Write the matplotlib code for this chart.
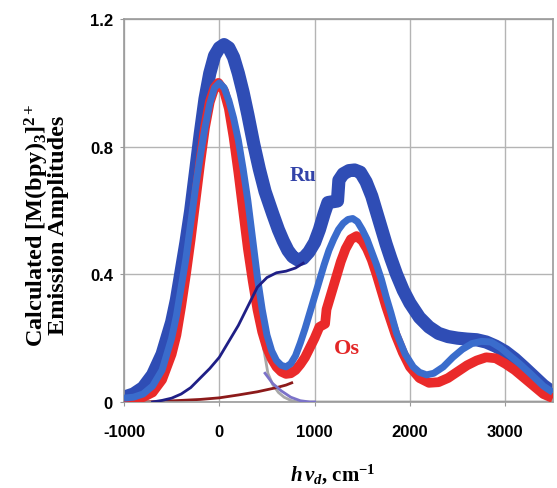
import matplotlib
matplotlib.use("Agg")
import matplotlib.pyplot as plt

plt.rcParams['mathtext.fontset'] = 'custom'
plt.rcParams['mathtext.rm'] = 'Liberation Serif:bold'
plt.rcParams['mathtext.it'] = 'Liberation Serif:bold:italic'
plt.rcParams['mathtext.bf'] = 'Liberation Serif:bold'

# Ru total (thick dark blue)
ru_x = [-1000, -900, -800, -700, -600, -500, -450, -400, -350, -300, -250, -200, -150, -100, -50,
        0, 50, 100, 150, 200, 250, 300, 360, 420, 480, 560, 620, 670, 720, 770, 825, 880, 940,
        1000, 1050, 1100, 1140, 1240, 1255, 1300, 1360, 1420, 1480, 1540, 1600, 1650, 1700, 1750,
        1800, 1860, 1930, 2000, 2100, 2200, 2300, 2400, 2500, 2600, 2700, 2800, 2900, 3000, 3100,
        3200, 3300, 3400, 3500]
ru_y = [0.015, 0.025, 0.045, 0.085, 0.15, 0.25, 0.32, 0.41, 0.5, 0.6, 0.72, 0.84, 0.95, 1.03, 1.085,
        1.11, 1.12, 1.11, 1.08, 1.03, 0.97, 0.9, 0.81, 0.73, 0.66, 0.59, 0.54, 0.505, 0.475, 0.455,
        0.445, 0.45, 0.47, 0.5, 0.54, 0.59, 0.625, 0.63, 0.695, 0.715, 0.725, 0.727, 0.72, 0.69,
        0.645, 0.595, 0.545, 0.495, 0.45, 0.4, 0.35, 0.31, 0.265, 0.235, 0.215, 0.205, 0.2, 0.197,
        0.195, 0.188, 0.175, 0.158, 0.135, 0.108, 0.08, 0.052, 0.03]

# medium blue
mb_x = [-1000, -900, -800, -700, -600, -500, -450, -400, -350, -300, -250, -200, -150, -100, -50,
        0, 50, 100, 150, 200, 250, 300, 350, 400, 450, 500, 550, 600, 650, 700, 750, 800, 850,
        900, 950, 1000, 1050, 1100, 1150, 1200, 1250, 1300, 1350, 1400, 1450, 1500, 1550, 1600,
        1650, 1700, 1750, 1800, 1860, 1950, 2035, 2100, 2175, 2250, 2350, 2450, 2550, 2650, 2750,
        2850, 2950, 3050, 3150, 3260, 3400, 3500]
mb_y = [0.012, 0.015, 0.025, 0.05, 0.1, 0.2, 0.27, 0.36, 0.45, 0.56, 0.67, 0.77, 0.86, 0.935, 0.985,
        1.0, 0.985, 0.945, 0.89, 0.82, 0.73, 0.63, 0.51, 0.39, 0.29, 0.21, 0.16, 0.13, 0.115, 0.11,
        0.12, 0.145, 0.185, 0.23, 0.28, 0.33, 0.38, 0.43, 0.475, 0.51, 0.54, 0.56, 0.572, 0.575,
        0.565, 0.54, 0.51, 0.47, 0.43, 0.385, 0.33, 0.28, 0.215, 0.15, 0.11, 0.093, 0.085, 0.09,
        0.11, 0.14, 0.165, 0.183, 0.19, 0.188, 0.17, 0.145, 0.12, 0.09, 0.05, 0.03]

# Os (red)
os_x = [-1000, -900, -800, -700, -600, -500, -450, -400, -350, -300, -250, -200, -150, -100, -50,
        -10, 50, 100, 150, 200, 250, 300, 350, 400, 450, 500, 550, 600, 650, 700, 750, 800, 850,
        900, 950, 1000, 1050, 1110, 1125, 1175, 1225, 1275, 1325, 1380, 1440, 1500, 1550, 1600,
        1650, 1700, 1750, 1800, 1850, 1925, 2000, 2100, 2200, 2300, 2400, 2500, 2600, 2700, 2800,
        2900, 3000, 3100, 3200, 3300, 3400, 3500]
os_y = [0.005, 0.008, 0.015, 0.03, 0.07, 0.15, 0.21, 0.3, 0.4, 0.51, 0.63, 0.75, 0.86, 0.94, 0.985,
        1.0, 0.975, 0.92, 0.83, 0.72, 0.6, 0.48, 0.38, 0.29, 0.22, 0.17, 0.135, 0.11, 0.095, 0.088,
        0.09, 0.1, 0.118, 0.14, 0.17, 0.2, 0.235, 0.245, 0.29, 0.34, 0.39, 0.44, 0.48, 0.51, 0.52,
        0.505, 0.48, 0.445, 0.4, 0.35, 0.3, 0.255, 0.21, 0.155, 0.11, 0.075, 0.06, 0.062, 0.075,
        0.095, 0.115, 0.13, 0.14, 0.137, 0.12, 0.1, 0.075, 0.05, 0.025, 0.012]

# thin component lines
navy_x = [-700, -600, -500, -400, -300, -200, -100, 0, 100, 200, 300, 400, 500, 600, 700, 800, 880]
navy_y = [0.0, 0.005, 0.012, 0.025, 0.045, 0.075, 0.105, 0.14, 0.19, 0.24, 0.3, 0.36, 0.39, 0.405,
          0.41, 0.42, 0.435]
dred_x = [-1000, -800, -600, -400, -200, 0, 200, 400, 600, 700, 760]
dred_y = [0.0, 0.0, 0.002, 0.005, 0.008, 0.013, 0.022, 0.032, 0.045, 0.053, 0.06]
gray_x = [420, 470, 510, 560, 620, 680, 750, 820, 3500]
gray_y = [0.25, 0.16, 0.09, 0.055, 0.03, 0.015, 0.005, 0.0, 0.0]
lav_x = [480, 560, 650, 750, 850, 950, 1000]
lav_y = [0.09, 0.058, 0.035, 0.015, 0.004, 0.0, 0.0]

xticks = [-1000, 0, 1000, 2000, 3000]
xtick_labels = ["-1000", "0", "1000", "2000", "3000"]
yticks = [0, 0.4, 0.8, 1.2]
ytick_labels = ["0", "0.4", "0.8", "1.2"]

fig = plt.figure(figsize=(5.57, 4.89), dpi=100)
ax = fig.add_axes([0.2226, 0.1759, 0.770, 0.783])

kw = dict(solid_capstyle='butt', solid_joinstyle='round')
ax.plot(ru_x, ru_y, color='#2f4db5', lw=9.5, zorder=2, **kw)
ax.plot(gray_x, gray_y, color='#a8a8a8', lw=2.0, zorder=2.5)
ax.plot(dred_x, dred_y, color='#8c1a1a', lw=2.0, zorder=2.5)
ax.plot(os_x, os_y, color='#ea2a2a', lw=7.0, zorder=3, **kw)
ax.plot(mb_x, mb_y, color='#3a6ccc', lw=5.0, zorder=4, **kw)
ax.plot(lav_x, lav_y, color='#7b72c8', lw=2.0, zorder=4.5)
ax.plot(navy_x, navy_y, color='#1f1f86', lw=2.0, zorder=5)

ax.set_xlim(-1000, 3500)
ax.set_ylim(0, 1.2)
ax.set_xticks(xticks)
ax.set_xticklabels(xtick_labels)
ax.set_yticks(yticks)
ax.set_yticklabels(ytick_labels)
for lab in ax.get_xticklabels() + ax.get_yticklabels():
    lab.set_fontfamily('Liberation Sans')
    lab.set_fontweight('bold')
    lab.set_fontsize(12)
ax.tick_params(axis='x', length=3, color='#999999', pad=13)
ax.tick_params(axis='y', length=3, color='#999999', pad=5)
ax.grid(True, color='#b4b4b4', lw=1.0, zorder=0)
ax.set_axisbelow(True)
for sp in ax.spines.values():
    sp.set_color('#9a9a9a')
    sp.set_linewidth(1.2)

ax.text(874, 0.71, "Ru", color='#3343a8', fontsize=15, fontweight='bold',
        family='Liberation Serif', ha='center', va='center')
ax.text(1337, 0.17, "Os", color='#e32626', fontsize=16, fontweight='bold',
        family='Liberation Serif', ha='center', va='center')

fig.text(46 / 557, 1 - 225 / 489,
         "Calculated [M(bpy)$_3$]$^{2+}$\nEmission Amplitudes",
         rotation=90, ha='center', va='center', multialignment='center',
         fontsize=17.5, fontweight='bold', family='Liberation Serif', linespacing=0.85)
fig.text(333 / 557, 1 - 475 / 489, r"$h\,\nu_d$, cm$^{-1}$",
         ha='center', va='center', fontsize=15, fontweight='bold', family='Liberation Serif')

fig.savefig("out.png", dpi=100)
